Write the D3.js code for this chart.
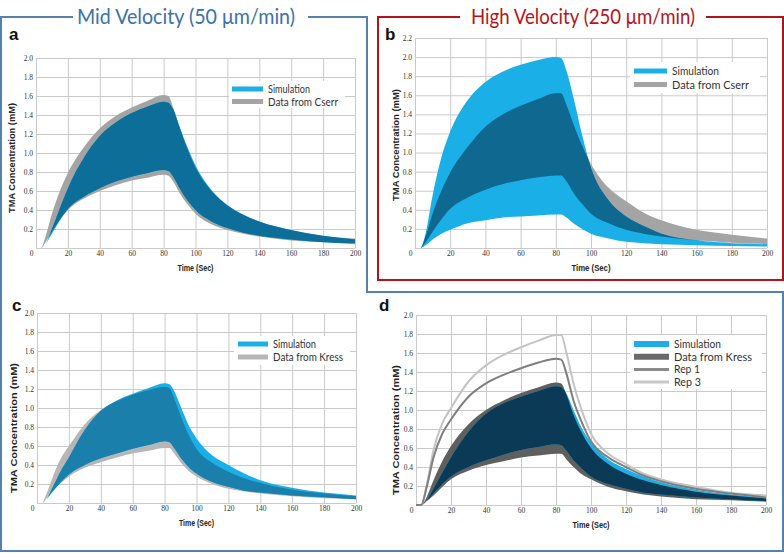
<!DOCTYPE html>
<html><head><meta charset="utf-8">
<script src="https://cdn.jsdelivr.net/npm/d3@7"></script>
<style>body{margin:0;background:#fff} svg{display:block}</style>
</head><body><svg id="chart" width="784" height="553"></svg>
<script>
// ---------- DATA ----------
const time = [0,3,6,10,15,20,30,40,50,60,70,80,83,86,90,95,100,110,120,130,140,160,180,200];
const xTicks = [0,20,40,60,80,100,120,140,160,180,200];
const yTicks20 = [0,0.2,0.4,0.6,0.8,1.0,1.2,1.4,1.6,1.8,2.0];
const yTicks22 = [0,0.2,0.4,0.6,0.8,1.0,1.2,1.4,1.6,1.8,2.0,2.2];

// Panel a (mid velocity, Cserr)
const aSimHi = [0,0,0.04,0.2,0.42,0.63,0.95,1.18,1.32,1.42,1.49,1.54,1.53,1.46,1.28,1.06,0.87,0.61,0.45,0.35,0.28,0.19,0.13,0.09];
const aSimLo = [0,0,0.04,0.15,0.29,0.41,0.54,0.63,0.7,0.75,0.79,0.82,0.81,0.75,0.63,0.5,0.4,0.28,0.21,0.16,0.13,0.09,0.06,0.05];
const aDatHi = [0,0,0.12,0.36,0.6,0.79,1.06,1.26,1.39,1.48,1.55,1.61,1.6,1.48,1.27,1.04,0.85,0.6,0.45,0.35,0.28,0.19,0.13,0.1];
const aDatLo = [0,0,0.06,0.17,0.3,0.4,0.52,0.6,0.66,0.71,0.74,0.77,0.76,0.7,0.58,0.46,0.36,0.25,0.19,0.15,0.12,0.08,0.06,0.04];

// Panel b (high velocity, Cserr)
const bSimHi = [0,0,0.15,0.55,0.95,1.22,1.55,1.74,1.85,1.92,1.97,2.0,1.99,1.86,1.58,1.18,0.84,0.5,0.33,0.23,0.15,0.08,0.05,0.04];
const bSimLo = [0,0,0.03,0.09,0.15,0.19,0.26,0.29,0.32,0.33,0.34,0.35,0.35,0.32,0.26,0.2,0.15,0.1,0.065,0.05,0.04,0.03,0.02,0.015];
const bDatHi = [0,0,0.12,0.36,0.6,0.79,1.06,1.27,1.4,1.49,1.56,1.62,1.62,1.5,1.3,1.07,0.88,0.63,0.49,0.37,0.29,0.19,0.14,0.1];
const bDatLo = [0,0,0.06,0.17,0.3,0.41,0.53,0.61,0.67,0.71,0.74,0.76,0.76,0.7,0.58,0.46,0.36,0.26,0.19,0.15,0.12,0.08,0.055,0.04];

// Panel c (mid velocity, Kress)
const cSimHi = [0,0,0.04,0.17,0.34,0.48,0.77,0.97,1.08,1.15,1.21,1.26,1.25,1.18,1.02,0.82,0.68,0.5,0.4,0.31,0.24,0.16,0.11,0.08];
const cSimLo = [0,0,0.04,0.12,0.22,0.3,0.4,0.47,0.52,0.57,0.61,0.65,0.64,0.58,0.48,0.38,0.31,0.22,0.17,0.13,0.11,0.08,0.06,0.04];
const cDatHi = [0,0,0.1,0.28,0.47,0.6,0.83,0.98,1.07,1.14,1.19,1.22,1.21,1.1,0.92,0.72,0.57,0.42,0.33,0.26,0.21,0.14,0.1,0.07];
const cDatLo = [0,0,0.05,0.13,0.21,0.28,0.37,0.43,0.48,0.52,0.55,0.58,0.58,0.52,0.43,0.34,0.28,0.2,0.15,0.12,0.1,0.07,0.05,0.04];

// Panel d (mid velocity, Kress + replicates)
const dSimHi = [0,0,0.04,0.17,0.34,0.5,0.77,0.96,1.07,1.14,1.2,1.25,1.24,1.17,1.0,0.8,0.66,0.48,0.38,0.3,0.24,0.16,0.11,0.08];
const dSimLo = [0,0,0.04,0.12,0.22,0.3,0.4,0.47,0.53,0.58,0.61,0.64,0.63,0.57,0.47,0.38,0.3,0.22,0.17,0.13,0.11,0.08,0.06,0.04];
const dDatHi = [0,0,0.08,0.26,0.46,0.62,0.85,1.0,1.1,1.18,1.24,1.29,1.28,1.16,0.95,0.75,0.6,0.43,0.33,0.26,0.21,0.14,0.1,0.07];
const dDatLo = [0,0,0.04,0.1,0.19,0.27,0.36,0.42,0.46,0.5,0.52,0.54,0.54,0.48,0.4,0.32,0.27,0.19,0.145,0.11,0.09,0.06,0.05,0.035];
const dRep1  = [0,0,0.18,0.5,0.75,0.9,1.14,1.28,1.37,1.44,1.5,1.54,1.53,1.38,1.1,0.86,0.67,0.5,0.4,0.31,0.25,0.17,0.12,0.08];
const dRep3  = [0,0,0.2,0.58,0.86,1.02,1.3,1.47,1.58,1.66,1.73,1.79,1.79,1.6,1.28,0.98,0.75,0.54,0.43,0.33,0.27,0.19,0.13,0.1];

const titles = ["Mid Velocity (50 μm/min)", "High Velocity (250 μm/min)"];
const legendA = ["Simulation","Data from Cserr"];
const legendC = ["Simulation","Data from Kress"];
const legendD = ["Simulation","Data from Kress","Rep 1","Rep 3"];

// ---------- DRAW ----------
const svg = d3.select('#chart');
svg.append('rect').attr('width',784).attr('height',553).attr('fill','#fff');

const CYAN = '#1aafe7';
let clipId = 0;

function panel(cfg){
  const x = d3.scaleLinear().domain([0,200]).range([cfg.x0,cfg.x1]);
  const y = d3.scaleLinear().domain([0,cfg.yMax]).range([cfg.y0,cfg.y1]);
  const g = svg.append('g');
  const w = cfg.x1-cfg.x0, h = cfg.y0-cfg.y1;

  const gx = g.append('g').attr('transform',`translate(0,${cfg.y0})`)
    .call(d3.axisBottom(x).tickValues(xTicks).tickSize(-h).tickPadding(3).tickFormat(d3.format('d')));
  const gy = g.append('g').attr('transform',`translate(${cfg.x0},0)`)
    .call(d3.axisLeft(y).tickValues(cfg.yTicks).tickSize(-w).tickPadding(3)
      .tickFormat(d=> d===0 ? '' : d3.format('.1f')(d)));
  [gx,gy].forEach(a=>{
    a.select('.domain').remove();
    a.selectAll('line').attr('stroke','#cacaca').attr('stroke-width',1);
    a.selectAll('text').attr('fill','#333').style('font-family','"Liberation Serif", serif').style('font-size','7.5px');
  });
  gx.selectAll('.tick').filter(d=>d===0).select('text').attr('x',-5);

  const area = (lo,hi)=> d3.area().x((d,i)=>x(time[i])).y0((d,i)=>y(lo[i])).y1((d,i)=>y(hi[i])).curve(d3.curveMonotoneX)(time);
  const dataPath = area(cfg.datLo,cfg.datHi);
  const simPath = area(cfg.simLo,cfg.simHi);
  const id = 'clip'+(clipId++);
  svg.append('clipPath').attr('id',id).append('path').attr('d',dataPath);
  g.append('path').attr('d',dataPath).attr('fill',cfg.dataColor);
  g.append('path').attr('d',simPath).attr('fill',CYAN);
  g.append('path').attr('d',simPath).attr('fill',cfg.overlap).attr('clip-path',`url(#${id})`);

  if(cfg.lines){
    cfg.lines.forEach(L=>{
      const line = d3.line().x((d,i)=>x(time[i])).y((d,i)=>y(L.v[i])).curve(d3.curveMonotoneX)(time);
      g.append('path').attr('d',line).attr('fill','none').attr('stroke',L.color).attr('stroke-width',2);
    });
  }

  g.append('text').attr('transform',`translate(${cfg.ytX},${cfg.ytY}) rotate(-90)`)
    .attr('text-anchor','middle').attr('dy','0.35em')
    .attr('textLength',cfg.ytLen).attr('lengthAdjust','spacingAndGlyphs')
    .style('font-family','"Liberation Sans", Arial, sans-serif').style('font-weight','bold').style('font-size','9px')
    .attr('fill','#222').text('TMA Concentration (mM)');
  g.append('text').attr('x',(cfg.x0+cfg.x1)/2).attr('y',cfg.y0+23)
    .attr('text-anchor','middle')
    .attr('textLength',cfg.xtLen).attr('lengthAdjust','spacingAndGlyphs')
    .style('font-family','"Liberation Sans", Arial, sans-serif').style('font-weight','bold').style('font-size','9.5px')
    .attr('fill','#222').text('Time (Sec)');

  svg.append('text').attr('x',cfg.lx).attr('y',cfg.ly)
    .style('font-family','"Liberation Sans", Arial, sans-serif').style('font-weight','bold').style('font-size','17px')
    .attr('fill','#111').text(cfg.letter);

  const L = cfg.legend;
  g.append('rect').attr('x',L.bx).attr('y',L.by).attr('width',L.bw).attr('height',L.bh).attr('fill','#fff');
  L.items.forEach((it,i)=>{
    const yy = L.y + i*L.dy;
    g.append('line').attr('x1',L.sx).attr('x2',L.sx+L.sw).attr('y1',yy).attr('y2',yy)
      .attr('stroke',it.color).attr('stroke-width',it.width);
    g.append('text').attr('x',L.sx+L.sw+5).attr('y',yy).attr('dy','0.35em')
      .style('font-family','Lato, "Open Sans", sans-serif').style('font-size',L.fs+'px')
      .attr('fill','#333').attr('textLength',it.len).attr('lengthAdjust','spacingAndGlyphs').text(it.label);
  });
}

panel({letter:'a',lx:9,ly:40,x0:36,x1:355,y0:248,y1:58,yMax:2.0,yTicks:yTicks20,
  simHi:aSimHi,simLo:aSimLo,datHi:aDatHi,datLo:aDatLo,dataColor:'#a4a4a4',overlap:'#0c6e99',
  ytX:12,ytY:158,ytLen:110,xtLen:36,
  legend:{bx:229,by:81,bw:116,bh:27,sx:232,sw:31,y:89,dy:12.5,fs:11.5,
    items:[{label:legendA[0],color:CYAN,width:5,len:42},{label:legendA[1],color:'#a4a4a4',width:5,len:70}]}});

panel({letter:'b',lx:385,ly:40,x0:415,x1:767,y0:248,y1:38,yMax:2.2,yTicks:yTicks22,
  simHi:bSimHi,simLo:bSimLo,datHi:bDatHi,datLo:bDatLo,dataColor:'#a4a4a4',overlap:'#0e6890',
  ytX:396,ytY:145,ytLen:112,xtLen:39,
  legend:{bx:630,by:62,bw:130,bh:31,sx:634,sw:33,y:71,dy:13.5,fs:11.5,
    items:[{label:legendA[0],color:CYAN,width:5,len:47},{label:legendA[1],color:'#a4a4a4',width:5,len:77}]}});

panel({letter:'c',lx:12,ly:311,x0:37,x1:356,y0:503,y1:313,yMax:2.0,yTicks:yTicks20,
  simHi:cSimHi,simLo:cSimLo,datHi:cDatHi,datLo:cDatLo,dataColor:'#b6b6b6',overlap:'#1a7fab',
  ytX:14,ytY:428,ytLen:130,xtLen:35,
  legend:{bx:234,by:336,bw:116,bh:29,sx:238,sw:30,y:344,dy:13,fs:11.5,
    items:[{label:legendC[0],color:CYAN,width:5,len:43},{label:legendC[1],color:'#b6b6b6',width:5,len:70}]}});

panel({letter:'d',lx:379,ly:311,x0:416,x1:766,y0:505,y1:315,yMax:2.0,yTicks:yTicks20,
  simHi:dSimHi,simLo:dSimLo,datHi:dDatHi,datLo:dDatLo,dataColor:'#5f5f5f',overlap:'#0a3a55',
  ytX:396,ytY:430,ytLen:130,xtLen:37,
  lines:[{v:dRep3,color:'#c4c4c4'},{v:dRep1,color:'#7f7f7f'}],
  legend:{bx:630,by:335,bw:132,bh:54,sx:634,sw:35,y:344,dy:12.7,fs:11,
    items:[{label:legendD[0],color:CYAN,width:6,len:47},{label:legendD[1],color:'#6a6a6a',width:6,len:78},
           {label:legendD[2],color:'#8a8a8a',width:3,len:26},{label:legendD[3],color:'#c8c8c8',width:3,len:27}]}});

// frames
const BLUE = '#5581ad', RED = '#b3141c';
svg.append('path').attr('d','M73,17 H1 V551 H783 V292 H367 V17 H308')
  .attr('fill','none').attr('stroke',BLUE).attr('stroke-width',2);
svg.append('path').attr('d','M460,17 H378 V280 H783 V17 H706')
  .attr('fill','none').attr('stroke',RED).attr('stroke-width',2);
svg.append('text').attr('x',186).attr('y',24).attr('text-anchor','middle')
  .attr('textLength',218).attr('lengthAdjust','spacingAndGlyphs')
  .style('font-family','Lato, "Open Sans", sans-serif').style('font-size','21px').attr('fill','#3a72aa').text(titles[0]);
svg.append('text').attr('x',583).attr('y',24).attr('text-anchor','middle')
  .attr('textLength',224).attr('lengthAdjust','spacingAndGlyphs')
  .style('font-family','Lato, "Open Sans", sans-serif').style('font-size','21px').attr('fill','#b5141c').text(titles[1]);
</script></body></html>
